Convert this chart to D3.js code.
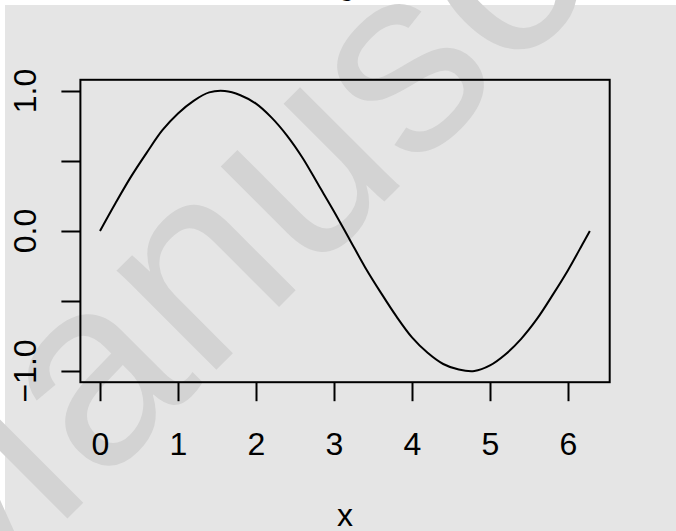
<!DOCTYPE html>
<html>
<head>
<meta charset="utf-8">
<script src="https://cdn.jsdelivr.net/npm/d3@7"></script>
<style>
  body { margin: 0; background: #ffffff; }
  text { font-family: "Liberation Sans", Arial, Helvetica, sans-serif; }
</style>
</head>
<body>
<div id="chart"></div>
<script>
// curve values
var xValues = [0, 0.2, 0.4, 0.6, 0.8, 1.0, 1.2, 1.4, 1.6, 1.8, 2.0, 2.2, 2.4, 2.6, 2.8, 3.0,
               3.2, 3.4, 3.6, 3.8, 4.0, 4.2, 4.4, 4.6, 4.8, 5.0, 5.2, 5.4, 5.6, 5.8, 6.0, 6.2, 6.28];
var yValues = [0, 0.20, 0.39, 0.56, 0.72, 0.84, 0.93, 0.99, 1.00, 0.97, 0.91, 0.81, 0.68, 0.52, 0.33, 0.14,
               -0.06, -0.26, -0.44, -0.61, -0.76, -0.87, -0.95, -0.99, -1.00, -0.96, -0.88, -0.77, -0.63, -0.46, -0.28, -0.08, 0.00];

var xTicks = [0, 1, 2, 3, 4, 5, 6];
var yTicks = [-1, -0.5, 0, 0.5, 1];
var yLabels = [-1, 0, 1];
var xTitle = "x";
var mainTitle = "g";
var watermark = "Manuscript";

var width = 676, height = 531;

var svg = d3.select("#chart").append("svg")
    .attr("width", width)
    .attr("height", height);

// grey panel
svg.append("rect")
    .attr("x", 5).attr("y", 5)
    .attr("width", width - 5).attr("height", height - 5)
    .attr("fill", "#e5e5e5");

// title, mostly cut off above the page
svg.append("text")
    .attr("x", 347)
    .attr("y", -6)
    .attr("text-anchor", "middle")
    .attr("font-size", 32)
    .attr("fill", "black")
    .text(mainTitle);

// watermark
svg.append("text")
    .attr("transform", "translate(-58,644) rotate(-45)")
    .attr("font-size", 266)
    .attr("fill", "#d3d3d3")
    .text(watermark);

var xScale = d3.scaleLinear().domain([0, 6]).range([100, 568]);
var yScale = d3.scaleLinear().domain([-1, 1]).range([371, 91]);

var xMax = 2 * Math.PI;
var x0 = xScale(-0.04 * xMax), x1 = xScale(1.04 * xMax);
var y0 = yScale(-1.08), y1 = yScale(1.08);

var line = d3.line()
    .x(function(d, i) { return xScale(xValues[i]); })
    .y(function(d) { return yScale(d); })
    .curve(d3.curveCatmullRom);

svg.append("path")
    .attr("d", line(yValues))
    .attr("fill", "none")
    .attr("stroke", "black")
    .attr("stroke-width", 2);

svg.append("rect")
    .attr("x", x0).attr("y", y1)
    .attr("width", x1 - x0).attr("height", y0 - y1)
    .attr("fill", "none")
    .attr("stroke", "black")
    .attr("stroke-width", 2);

var xAxis = svg.append("g")
    .attr("transform", "translate(0," + y0 + ")")
    .call(d3.axisBottom(xScale).tickValues(xTicks).tickSize(19).tickPadding(31).tickFormat(d3.format("d")));

var yAxis = svg.append("g")
    .attr("transform", "translate(" + x0 + ",0)")
    .call(d3.axisLeft(yScale).tickValues(yTicks).tickSize(19).tickFormat(""));

[xAxis, yAxis].forEach(function(ax) {
    ax.select(".domain").remove();
    ax.selectAll(".tick line").attr("stroke", "black").attr("stroke-width", 2);
});
xAxis.selectAll(".tick text")
    .attr("font-size", 32)
    .attr("font-family", "Liberation Sans, Arial, sans-serif")
    .attr("fill", "black");

svg.append("g").selectAll("text")
    .data(yLabels)
    .enter().append("text")
    .attr("transform", function(d) { return "translate(36," + yScale(d) + ") rotate(-90)"; })
    .attr("text-anchor", "middle")
    .attr("font-size", 32)
    .attr("fill", "black")
    .text(function(d) { return d3.format(".1f")(d).replace("-", "\u2212"); });

svg.append("text")
    .attr("x", (x0 + x1) / 2)
    .attr("y", 526)
    .attr("text-anchor", "middle")
    .attr("font-size", 32)
    .attr("fill", "black")
    .text(xTitle);
</script>
</body>
</html>
